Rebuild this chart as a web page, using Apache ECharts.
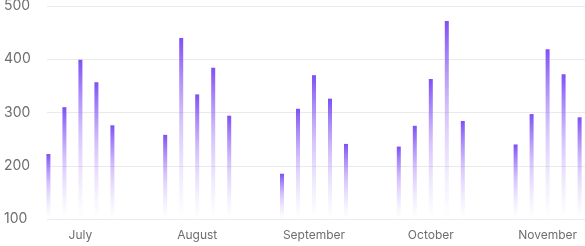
<!DOCTYPE html>
<html>
<head>
<meta charset="utf-8">
<script src="https://cdn.jsdelivr.net/npm/echarts@6/dist/echarts.min.js"></script>
<style>
  html, body { margin: 0; padding: 0; background: #fff; }
  #chart { width: 585px; height: 246px; }
</style>
</head>
<body>
<div id="chart"></div>
<script>
// months along the bottom
const months = ['July', 'August', 'September', 'October', 'November']
// five bars per month, one array per bar slot
const bar1 = [222, 258, 185, 236, 240]
const bar2 = [310, 440, 307, 275, 297]
const bar3 = [399, 334, 370, 363, 419]
const bar4 = [357, 384, 326, 472, 372]
const bar5 = [276, 294, 241, 284, 291]
const yTicks = [100, 200, 300, 400, 500]

const chart = echarts.init(document.getElementById('chart'))

const fade = new echarts.graphic.LinearGradient(0, 0, 0, 1, [
  { offset: 0, color: '#7f4ff6' },
  { offset: 0.45, color: 'rgba(160,120,246,0.45)' },
  { offset: 1, color: 'rgba(200,180,250,0)' }
])

function barSeries(data) {
  return {
    type: 'bar',
    xAxisIndex: 1,
    yAxisIndex: 1,
    barWidth: 4,
    barGap: '300%',
    itemStyle: { color: fade },
    data: data
  }
}

const option = {
  animation: false,
  grid: [
    { left: 47, right: 0, top: 6, bottom: 27, outerBoundsMode: 'none' },
    // bar grid is wider than the page so the months keep the same spacing
    { left: 22, width: 584, top: 6, bottom: 27, outerBoundsMode: 'none' }
  ],
  xAxis: [
    { type: 'category', gridIndex: 0, data: months, show: false },
    {
      type: 'category',
      gridIndex: 1,
      data: months,
      axisLine: { show: false },
      axisTick: { show: false },
      axisLabel: {
        margin: 10,
        color: '#6e6e6e',
        fontFamily: 'Inter',
        fontSize: 12
      }
    }
  ],
  yAxis: [
    {
      type: 'value',
      gridIndex: 0,
      min: yTicks[0],
      max: yTicks[yTicks.length - 1],
      interval: 100,
      axisLine: { show: false },
      axisTick: { show: false },
      axisLabel: {
        align: 'left',
        margin: 43,
        padding: [3, 0, 0, 0],
        color: '#6e6e6e',
        fontFamily: 'Inter',
        fontSize: 14
      },
      splitLine: { lineStyle: { color: '#e9e9ee', width: 1 } }
    },
    {
      type: 'value',
      gridIndex: 1,
      min: yTicks[0],
      max: yTicks[yTicks.length - 1],
      show: false,
      splitLine: { show: false }
    }
  ],
  series: [bar1, bar2, bar3, bar4, bar5].map(barSeries)
}

chart.setOption(option)
</script>
</body>
</html>
